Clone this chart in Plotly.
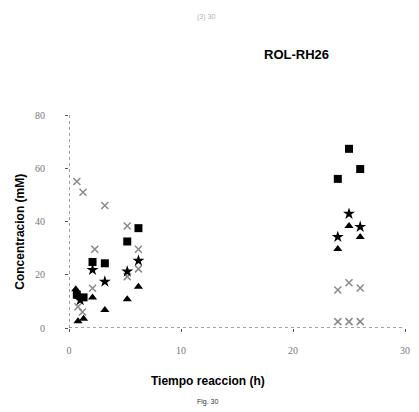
import plotly.graph_objects as go

# Data (time in h, concentration in mM)
square_t = [0.7, 1.3, 2.1, 3.2, 5.2, 6.2, 24, 25, 26]
square_y = [12.5, 11.5, 24.8, 24.3, 32.5, 37.5, 56, 67.3, 59.7]

star_t = [1.0, 2.1, 3.2, 5.2, 6.2, 24, 25, 26]
star_y = [10.5, 21.8, 17.4, 21.2, 25.3, 34.2, 42.9, 38.0]

tri_t = [0.6, 0.8, 1.3, 2.1, 3.2, 5.2, 6.2, 24, 25, 26]
tri_y = [14.6, 2.5, 3.5, 11.5, 6.8, 10.8, 15.5, 29.7, 38.3, 34.2]

xa_t = [0.7, 1.25, 3.2, 5.2, 6.2, 24, 25, 26]
xa_y = [55.0, 51.0, 46.0, 38.3, 29.6, 14.3, 17.0, 15.0]

xb_t = [0.8, 1.2, 2.1, 2.3, 5.2, 6.2, 24, 25, 26]
xb_y = [8.0, 6.0, 14.9, 29.6, 19.3, 22.2, 2.4, 2.4, 2.4]

x_ticks = [0, 10, 20, 30]
y_ticks = [0, 20, 40, 60, 80]

fig = go.Figure()
fig.add_trace(go.Scatter(x=xa_t, y=xa_y, mode="markers",
                         marker=dict(symbol="x-thin-open", size=7, color="#8a8a8a",
                                     line=dict(width=1.5, color="#8a8a8a"))))
fig.add_trace(go.Scatter(x=xb_t, y=xb_y, mode="markers",
                         marker=dict(symbol="x-thin-open", size=7, color="#8a8a8a",
                                     line=dict(width=1.5, color="#8a8a8a"))))
fig.add_trace(go.Scatter(x=tri_t, y=tri_y, mode="markers",
                         marker=dict(symbol="triangle-up", size=8, color="black")))
fig.add_trace(go.Scatter(x=star_t, y=star_y, mode="markers",
                         marker=dict(symbol="star", size=9, color="black")))
fig.add_trace(go.Scatter(x=square_t, y=square_y, mode="markers",
                         marker=dict(symbol="square", size=8, color="black")))

# dotted axis lines
fig.add_shape(type="line", x0=0, x1=30, y0=0, y1=0, xref="x", yref="y",
              line=dict(color="#444", width=1, dash="dot"))
fig.add_shape(type="line", x0=0, x1=0, y0=0, y1=80, xref="x", yref="y",
              line=dict(color="#444", width=1, dash="dot"))

fig.update_xaxes(range=[0, 30], tickvals=x_ticks, showgrid=False, zeroline=False,
                 showline=False, ticks="outside", ticklen=3, tickcolor="#555",
                 tickfont=dict(size=10, color="#777", family="Liberation Serif"),
                 ticklabelstandoff=10, ticklabeloverflow="allow")
fig.update_yaxes(range=[0, 80], tickvals=y_ticks, showgrid=False, zeroline=False,
                 showline=False, ticks="outside", ticklen=3, tickcolor="#555",
                 tickfont=dict(size=10, color="#777", family="Liberation Serif"),
                 ticklabelstandoff=18)

# page body has an 8px margin; figure coordinates are offset accordingly
OFF = 8
annots = [
    dict(text="<b>ROL-RH26</b>", x=300, y=55, font=dict(size=13, color="black")),
    dict(text="(3) 30", x=208, y=17, font=dict(size=7, color="#b0b0b0")),
    dict(text="<b>Tiempo reaccion (h)</b>", x=210, y=381, font=dict(size=12, color="black")),
    dict(text="Fig. 30", x=210, y=402, font=dict(size=7, color="#333")),
    dict(text="<b>Concentracion (mM)</b>", x=19, y=232, textangle=-90,
         font=dict(size=12, color="black")),
]
W, H = 419 - OFF, 412 - OFF
L, R, T, B = 69 - OFF, 9, 115 - OFF, 84
for a in annots:
    fig.add_annotation(text=a["text"], xref="paper", yref="paper",
                       x=(a["x"] - OFF - L) / (W - L - R),
                       y=1 - (a["y"] - OFF - T) / (H - T - B),
                       showarrow=False, xanchor="center", yanchor="middle",
                       textangle=a.get("textangle", 0),
                       font=dict(family="Liberation Sans", **a["font"]))

fig.update_layout(width=W, height=H, margin=dict(l=L, r=R, t=T, b=B),
                  paper_bgcolor="white", plot_bgcolor="white", showlegend=False)
fig.write_html("out.html")
